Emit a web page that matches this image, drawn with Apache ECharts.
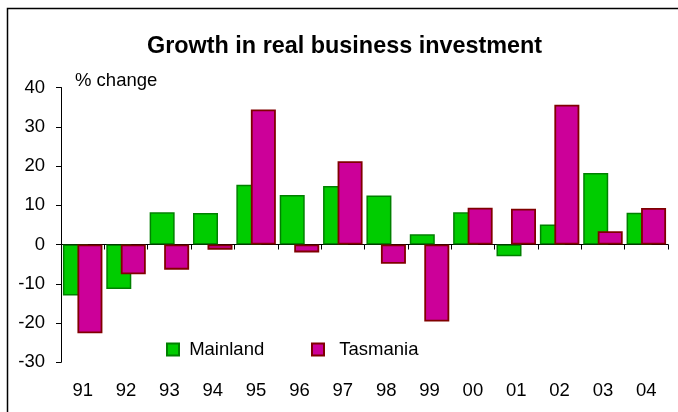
<!DOCTYPE html>
<html>
<head>
<meta charset="utf-8">
<script src="https://cdn.jsdelivr.net/npm/echarts@6/dist/echarts.min.js"></script>
<style>html,body{margin:0;padding:0;background:#fff;}#c{width:678px;height:412px;}</style>
</head>
<body>
<div id="c"></div>
<script>
const categories = ['91','92','93','94','95','96','97','98','99','00','01','02','03','04'];
const mainland = [-13.0, -11.3, 8.2, 8.0, 15.2, 12.6, 14.9, 12.5, 2.6, 8.2, -3.0, 5.1, 18.2, 8.1];
const tasmania = [-22.6, -7.6, -6.4, -1.3, 34.4, -2.0, 21.2, -4.9, -19.6, 9.4, 9.1, 35.6, 3.4, 9.3];
const yTicks = { min: -30, max: 40, interval: 10 };

const FONT = '"Liberation Sans", Arial, sans-serif';
const chart = echarts.init(document.getElementById('c'), null, { renderer: 'canvas' });
chart.setOption({
  animation: false,
  backgroundColor: '#fff',
  textStyle: { fontFamily: FONT },
  graphic: [
    { type: 'rect', shape: { x: 7.5, y: 8.5, width: 720, height: 460 }, style: { fill: 'none', stroke: '#000', lineWidth: 1.5 }, silent: true },
    { type: 'text', left: 147, top: 35, style: { text: 'Growth in real business investment', font: 'bold 23.4px ' + FONT, fill: '#000' } },
    { type: 'text', left: 75, top: 71, style: { text: '% change', font: '18.5px ' + FONT, fill: '#000' } }
  ],
  legend: [
    { data: ['Mainland'], left: 161, top: 335, icon: 'rect', itemWidth: 12, itemHeight: 12,
      formatter: n => ' ' + n, textStyle: { fontSize: 18.5, color: '#000', fontFamily: FONT } },
    { data: ['Tasmania'], left: 306, top: 335, icon: 'rect', itemWidth: 12, itemHeight: 12,
      formatter: n => '  ' + n, textStyle: { fontSize: 18.5, color: '#000', fontFamily: FONT } }
  ],
  grid: { left: 61, right: 10, top: 87.5, bottom: 49.7, containLabel: false },
  xAxis: [
    { type: 'category', data: categories, position: 'bottom',
      axisLine: { show: false, onZero: false }, axisTick: { show: false },
      axisLabel: { margin: 19, fontSize: 18.5, color: '#000', fontFamily: FONT } },
    { type: 'category', data: categories, position: 'bottom', gridIndex: 0,
      axisLine: { show: true, onZero: true, lineStyle: { color: '#000', width: 1 } },
      axisTick: { show: true, length: 5, lineStyle: { color: '#000' } },
      axisLabel: { show: false } }
  ],
  yAxis: {
    type: 'value', min: yTicks.min, max: yTicks.max, interval: yTicks.interval,
    axisLine: { show: true, lineStyle: { color: '#000', width: 1 } },
    axisTick: { show: true, length: 5, lineStyle: { color: '#000' } },
    splitLine: { show: false },
    axisLabel: { margin: 16, fontSize: 18.5, color: '#000', fontFamily: FONT }
  },
  series: [
    { name: 'Mainland', type: 'bar', xAxisIndex: 0, data: mainland, barWidth: 25, barGap: '-42%',
      itemStyle: { color: '#00CC00', borderColor: '#008000', borderWidth: 1.5 } },
    { name: 'Tasmania', type: 'bar', xAxisIndex: 0, data: tasmania, barWidth: 25, barGap: '-42%',
      itemStyle: { color: '#CC0099', borderColor: '#800000', borderWidth: 1.8 } }
  ]
});
</script>
</body>
</html>
